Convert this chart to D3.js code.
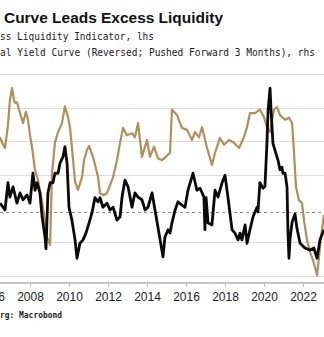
<!DOCTYPE html>
<html>
<head>
<meta charset="utf-8">
<script src="https://cdn.jsdelivr.net/npm/d3@7/dist/d3.min.js"></script>
<style>
	body { margin: 0; background: #fff; }
	svg { display: block; }
</style>
</head>
<body>
<svg id="chart"></svg>
<script>
// excess liquidity indicator (lhs), decimal years
var liqYears = [2006.46, 2006.72, 2006.87, 2006.97, 2007.13, 2007.33, 2007.49, 2007.64, 2007.85, 2008.00,
	2008.15, 2008.26, 2008.36, 2008.51, 2008.62, 2008.77, 2008.82, 2008.92, 2009.03, 2009.18,
	2009.28, 2009.44, 2009.54, 2009.69, 2009.79, 2009.90, 2010.00, 2010.15, 2010.31, 2010.41,
	2010.56, 2010.72, 2010.87, 2011.03, 2011.18, 2011.33, 2011.49, 2011.59, 2011.74, 2011.95,
	2012.10, 2012.26, 2012.46, 2012.62, 2012.72, 2012.87, 2013.03, 2013.23, 2013.38, 2013.54,
	2013.74, 2013.90, 2014.05, 2014.26, 2014.41, 2014.56, 2014.82, 2014.92, 2015.08, 2015.18,
	2015.28, 2015.44, 2015.59, 2015.79, 2015.95, 2016.10, 2016.31, 2016.36, 2016.56, 2016.72,
	2016.92, 2016.97, 2017.03, 2017.13, 2017.33, 2017.49, 2017.64, 2017.85, 2018.00, 2018.15,
	2018.36, 2018.51, 2018.67, 2018.77, 2018.87, 2019.03, 2019.13, 2019.28, 2019.44, 2019.64,
	2019.69, 2019.79, 2019.95, 2020.05, 2020.15, 2020.21, 2020.31, 2020.36, 2020.46, 2020.56,
	2020.72, 2020.82, 2020.92, 2020.97, 2021.08, 2021.18, 2021.23, 2021.28, 2021.33, 2021.44,
	2021.59, 2021.69, 2021.85, 2022.10, 2022.36, 2022.56, 2022.72, 2022.87, 2023.08];
var liqValues = [1.3, 0.3, 4.3, 2.2, 3.7, 1.3, 2.8, 1.8, 2.5, 1.3,
	5.7, 3.2, 4.3, 2.8, -0.7, -3.7, -5.4, 2.8, 4.3, 4.3,
	5.7, 5.7, 7.2, 8.1, 9.6, 7.2, 0.7, -1.2, -4.1, -6.8,
	-4.6, -4.1, -3.1, -1.6, -0.1, 2.1, 1.5, 2.1, 0.7, 1.3,
	0.3, 0.7, -1.2, -0.7, 2.2, 4.7, 3.7, 0.7, 2.8, 2.2,
	1.8, 0.3, 0.7, 2.8, 0.3, -2.2, -6.6, -3.7, -2.6, -3.1,
	-1.6, 0.3, 1.5, 1.0, 0.7, 3.2, 5.2, 5.7, 3.2, 3.5,
	2.2, -2.6, 2.1, -1.6, -1.9, 3.2, 2.2, 4.3, 5.4, 2.2,
	-2.6, -3.1, -4.1, -3.1, -4.1, -1.9, -4.6, -2.6, -0.7, 0.7,
	0.0, 4.3, 3.5, 3.8, 10.1, 15.0, 18.2, 15.0, 10.1, 9.1,
	7.6, 6.2, 6.6, 5.7, 5.7, 3.7, -3.1, -6.8, -4.1, -1.5,
	-0.3, -2.4, -4.6, -5.3, -5.6, -5.3, -6.8, -4.1, -2.6];

// yield curve, reversed and pushed forward 3 months (rhs)
var curveYears = [2006.46, 2006.62, 2006.72, 2006.87, 2006.97, 2007.08, 2007.18, 2007.23, 2007.33, 2007.49,
	2007.64, 2007.79, 2007.90, 2008.00, 2008.10, 2008.26, 2008.41, 2008.67, 2008.87, 2009.03,
	2009.13, 2009.28, 2009.44, 2009.64, 2009.79, 2009.95, 2010.05, 2010.21, 2010.31, 2010.46,
	2010.67, 2010.77, 2010.92, 2011.03, 2011.23, 2011.49, 2011.59, 2011.79, 2011.95, 2012.26,
	2012.46, 2012.62, 2012.77, 2012.97, 2013.23, 2013.38, 2013.54, 2013.74, 2014.00, 2014.15,
	2014.36, 2014.56, 2014.77, 2014.97, 2015.18, 2015.28, 2015.54, 2015.79, 2016.05, 2016.31,
	2016.46, 2016.67, 2016.82, 2017.08, 2017.33, 2017.49, 2017.74, 2017.95, 2018.21, 2018.46,
	2018.72, 2018.97, 2019.13, 2019.28, 2019.54, 2019.79, 2020.00, 2020.15, 2020.31, 2020.51,
	2020.67, 2020.82, 2021.08, 2021.28, 2021.44, 2021.54, 2021.64, 2021.79, 2021.95, 2022.05,
	2022.21, 2022.36, 2022.56, 2022.72, 2022.82, 2022.92, 2023.08];
var curveValues = [-0.56, -0.45, -0.40, -0.74, -1.11, -1.29, -1.11, -1.07, -1.08, -0.92,
	-0.77, -0.94, -0.82, -0.59, -0.42, -0.07, 0.07, 0.48, 0.92, 1.04,
	-0.03, -0.48, -0.64, -0.77, -1.02, -0.86, -0.71, -0.22, 0.10, 0.22,
	0.03, -0.22, -0.37, -0.43, -0.27, 0.03, 0.27, 0.30, 0.27, 0.03,
	-0.22, -0.48, -0.70, -0.59, -0.62, -0.56, -0.77, -0.27, -0.52, -0.27,
	-0.42, -0.25, -0.22, -0.27, -0.33, -0.97, -0.89, -0.70, -0.67, -0.52,
	-0.64, -0.56, -0.71, -0.40, -0.15, -0.33, -0.55, -0.45, -0.52, -0.48,
	-0.40, -0.56, -0.71, -0.92, -0.92, -0.97, -0.86, -0.71, -0.64, -0.97,
	-1.01, -0.89, -0.82, -0.85, -0.77, -0.33, 0.18, 0.37, 0.42, 0.67,
	0.97, 1.14, 1.31, 1.49, 1.22, 0.92, 0.59];

var yearTicks = [2006, 2008, 2010, 2012, 2014, 2016, 2018, 2020, 2022];

var title = "Curve Leads Excess Liquidity",
	legendLiq = "ss Liquidity Indicator, lhs",
	legendCurve = "al Yield Curve (Reversed; Pushed Forward 3 Months), rhs",
	source = "rg: Macrobond";

var width = 324, height = 337,
	svg = d3.select("#chart")
		.attr("width", width)
		.attr("height", height),
	x = d3.scaleLinear().domain([2008, 2022]).range([30, 303]),
	yL = d3.scaleLinear().domain([0, 10]).range([212, 144]),
	yR = d3.scaleLinear().domain([-1.5, 1.5]).range([74, 276]),
	axisY = 283;

// title + legend text
svg.append("text")
	.attr("x", 4)
	.attr("y", 22.5)
	.attr("font-family", "Liberation Sans, Arial, sans-serif")
	.attr("font-weight", "bold")
	.attr("font-size", 15.5)
	.attr("textLength", 219)
	.attr("lengthAdjust", "spacingAndGlyphs")
	.attr("fill", "#111")
	.text(title);

svg.append("text")
	.attr("x", 0)
	.attr("y", 39.5)
	.attr("font-family", "DejaVu Sans Mono, monospace")
	.attr("font-size", 9.6)
	.attr("textLength", 154)
	.attr("lengthAdjust", "spacingAndGlyphs")
	.attr("fill", "#1a1a1a")
	.text(legendLiq);

svg.append("text")
	.attr("x", 0)
	.attr("y", 55.5)
	.attr("font-family", "DejaVu Sans Mono, monospace")
	.attr("font-size", 9.6)
	.attr("textLength", 315)
	.attr("lengthAdjust", "spacingAndGlyphs")
	.attr("fill", "#1a1a1a")
	.text(legendCurve);

// grid from the rhs ticks; the lhs zero line is dashed
var zeroY = yL(0);
svg.append("g")
	.selectAll("line")
	.data(yR.ticks(6).filter(function(d) { return Math.abs(yR(d) - zeroY) > 5; }))
	.enter().append("line")
	.attr("x1", 0)
	.attr("x2", width)
	.attr("y1", function(d) { return Math.round(yR(d)) + 0.5; })
	.attr("y2", function(d) { return Math.round(yR(d)) + 0.5; })
	.attr("stroke", "#dcdcdc")
	.attr("stroke-width", 1);

svg.append("line")
	.attr("x1", 0)
	.attr("x2", width)
	.attr("y1", Math.round(zeroY) + 0.5)
	.attr("y2", Math.round(zeroY) + 0.5)
	.attr("stroke", "#8c8c8c")
	.attr("stroke-width", 1)
	.attr("stroke-dasharray", "3,3");

// x axis
var xAxis = svg.append("g")
	.attr("transform", "translate(0," + axisY + ")")
	.call(d3.axisBottom(x)
		.tickValues(yearTicks)
		.tickFormat(d3.format("d"))
		.tickSize(4)
		.tickSizeOuter(0)
		.tickPadding(5));

xAxis.select(".domain").remove();
xAxis.selectAll(".tick line").attr("stroke", "#bdbdbd");
xAxis.selectAll(".tick text")
	.attr("font-family", "Liberation Sans, Arial, sans-serif")
	.attr("font-size", 12)
	.attr("fill", "#222");

svg.append("line")
	.attr("x1", 0)
	.attr("x2", width)
	.attr("y1", axisY)
	.attr("y2", axisY)
	.attr("stroke", "#c4c4c4")
	.attr("stroke-width", 2);

// series
var curveLine = d3.line()
	.x(function(d, i) { return x(curveYears[i]); })
	.y(function(d) { return yR(d); });

var liqLine = d3.line()
	.x(function(d, i) { return x(liqYears[i]); })
	.y(function(d) { return yL(d); });

svg.append("path")
	.datum(curveValues)
	.attr("fill", "none")
	.attr("stroke", "#b18e5c")
	.attr("stroke-width", 2.2)
	.attr("stroke-linejoin", "round")
	.attr("d", curveLine);

svg.append("path")
	.datum(liqValues)
	.attr("fill", "none")
	.attr("stroke", "#0a0a0a")
	.attr("stroke-width", 2.8)
	.attr("stroke-linejoin", "round")
	.attr("d", liqLine);

// source
svg.append("text")
	.attr("x", 0)
	.attr("y", 318)
	.attr("font-family", "DejaVu Sans Mono, monospace")
	.attr("font-weight", "bold")
	.attr("font-size", 8)
	.attr("textLength", 62)
	.attr("lengthAdjust", "spacingAndGlyphs")
	.attr("fill", "#222")
	.text(source);
</script>
</body>
</html>
